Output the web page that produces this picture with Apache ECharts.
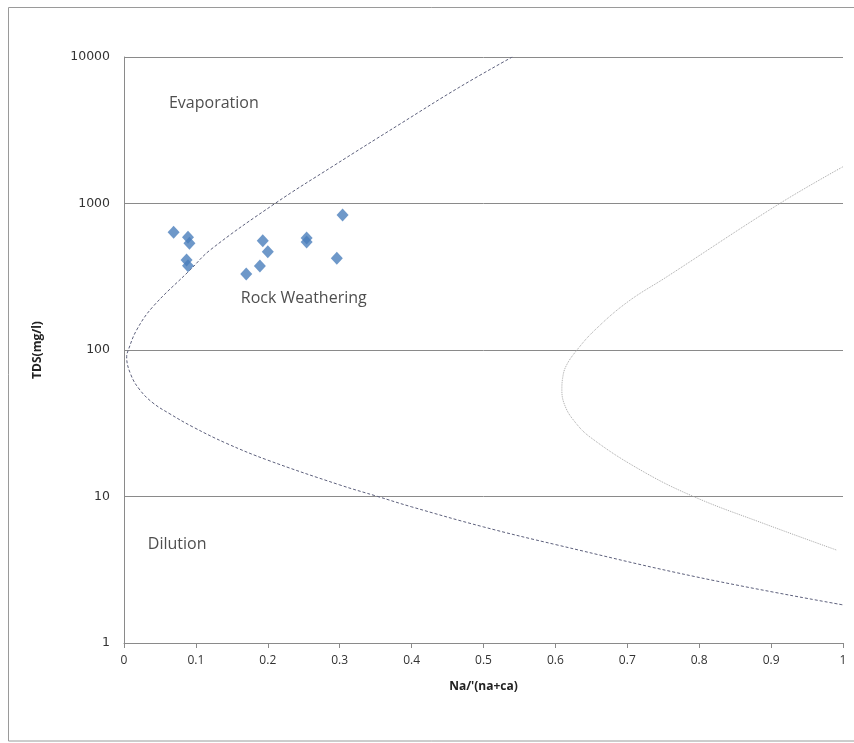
<!DOCTYPE html>
<html>
<head>
<meta charset="utf-8">
<script src="https://cdn.jsdelivr.net/npm/echarts@6/dist/echarts.min.js"></script>
<style>
html,body{margin:0;padding:0;background:#fff;}
#chart{width:854px;height:743px;}
</style>
</head>
<body>
<div id="chart"></div>
<script>
// Sample points: [Na/(Na+Ca), TDS mg/l]
var samples = [
  [0.069, 636], [0.089, 588], [0.091, 535], [0.087, 411], [0.089, 376],
  [0.170, 330], [0.189, 374], [0.193, 557], [0.200, 469],
  [0.254, 582], [0.254, 546], [0.304, 834], [0.296, 423]
];
// Left Gibbs boundary (dashed) from top to bottom
var leftBoundary = [
  [0.540, 10000], [0.467, 6240], [0.384, 3490], [0.291, 1803], [0.210, 1000],
  [0.120, 482], [0.092, 352], [0.040, 197], [0.0176, 137], [0.006, 100],
  [0.0037, 90], [0.0097, 67.5], [0.0222, 53.3], [0.0403, 43.5], [0.064, 36.6],
  [0.096, 29.8], [0.143, 23], [0.200, 17.7], [0.300, 12], [0.353, 10],
  [0.400, 8.5], [0.500, 6.2], [0.600, 4.7], [0.800, 2.8], [1.000, 1.82]
];
// Right Gibbs boundary (dotted)
var rightBoundary = [
  [1.000, 1783], [0.912, 1000], [0.755, 316], [0.700, 212], [0.655, 137],
  [0.630, 100], [0.615, 78], [0.610, 64], [0.609, 53], [0.613, 42],
  [0.625, 33.3], [0.648, 25.5], [0.718, 15.2], [0.792, 10], [0.889, 6.56],
  [0.991, 4.31]
];
// Region labels
var regionLabels = [
  {name: 'Evaporation', value: [0.125, 4850]},
  {name: 'Rock Weathering', value: [0.250, 226]},
  {name: 'Dilution', value: [0.074, 4.74]}
];
var xTitle = "Na/'(na+ca)";
var yTitle = 'TDS(mg/l)';

var chart = echarts.init(document.getElementById('chart'));
chart.setOption({
  animation: false,
  backgroundColor: '#fff',
  grid: {left: 124, right: 11, top: 57, bottom: 100},
  graphic: [{
    type: 'rect', shape: {x: 8.5, y: 7.5, width: 860, height: 733.5},
    style: {fill: 'none', stroke: '#9a9a9a', lineWidth: 1}, silent: true
  }],
  xAxis: {
    type: 'value', min: 0, max: 1, interval: 0.1,
    name: xTitle, nameLocation: 'middle', nameGap: 38,
    nameTextStyle: {fontFamily: 'Open Sans', fontSize: 12, fontWeight: 'bold', color: '#222'},
    axisLine: {show: true, lineStyle: {color: '#8a8a8a', width: 1}},
    axisTick: {show: true, inside: false, length: 5, lineStyle: {color: '#8a8a8a'}},
    axisLabel: {fontFamily: 'Open Sans', fontSize: 12, color: '#333', margin: 12},
    splitLine: {show: false}
  },
  yAxis: {
    type: 'log', logBase: 10, min: 1, max: 10000,
    name: yTitle, nameLocation: 'middle', nameGap: 80, nameRotate: 90,
    nameTextStyle: {fontFamily: 'Open Sans', fontSize: 12, fontWeight: 'bold', color: '#222'},
    axisLine: {show: true, lineStyle: {color: '#8a8a8a', width: 1}},
    axisTick: {show: false},
    axisLabel: {fontFamily: 'DejaVu Sans', fontSize: 12.5, color: '#333', margin: 14,
      formatter: function (v) { return String(Math.round(v)); }},
    splitLine: {show: true, lineStyle: {color: '#8a8a8a', width: 1}},
    minorTick: {show: false}
  },
  series: [
    {
      type: 'line', data: leftBoundary, smooth: 0.4, symbol: 'none',
      lineStyle: {color: '#5d607c', width: 1, type: [3, 2]}, z: 3
    },
    {
      type: 'line', data: rightBoundary, smooth: 0.4, symbol: 'none',
      lineStyle: {color: '#a8a8a8', width: 1, type: [1, 1]}, z: 3
    },
    {
      type: 'scatter', data: samples, symbol: 'diamond', symbolSize: [12, 13],
      itemStyle: {color: '#4a7ebb'}, z: 5
    },
    {
      type: 'scatter', data: regionLabels, symbolSize: 0, silent: true,
      label: {show: true, position: 'inside', formatter: '{b}',
        fontFamily: 'Open Sans', fontSize: 16, color: '#222'}
    }
  ]
});
</script>
</body>
</html>
